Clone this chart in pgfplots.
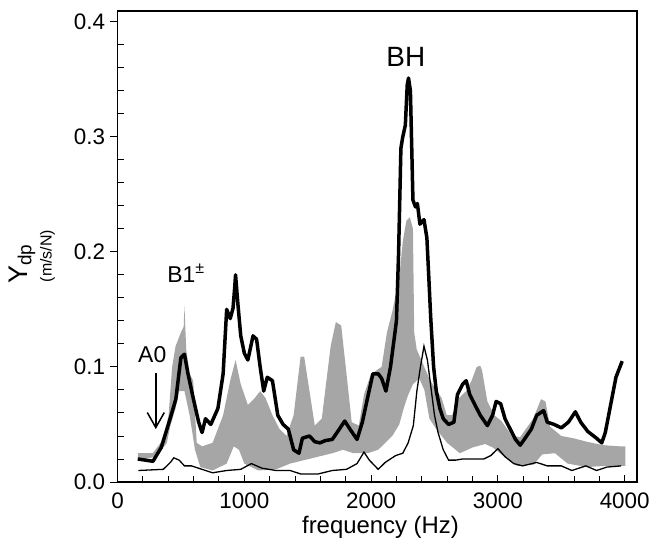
\documentclass[border=0pt]{standalone}
\usepackage{fontspec}
\setmainfont{Liberation Sans}
\usepackage{pgfplots}
\pgfplotsset{compat=1.18}
\usepgfplotslibrary{fillbetween}
\usetikzlibrary{arrows.meta}
\definecolor{band}{gray}{0.65}

\begin{document}
\begin{tikzpicture}
\begin{axis}[
  at={(0,0)}, anchor=south west, scale only axis,
  width=519.5bp, height=470.7bp,
  xmin=0, xmax=4097, ymin=0, ymax=0.409,
  xtick={0,1000,2000,3000,4000}, ytick={0,0.1,0.2,0.3,0.4},
  minor x tick num=4, minor y tick num=4,
  tick pos=left, tick align=inside,
  major tick length=7bp, minor tick length=6bp,
  every tick/.style={black, line width=0.9bp},
  every major y tick/.append style={xshift=-7bp},
  axis line style={line width=1.7bp},
  ticklabel style={font=\fontsize{22.5}{26}\selectfont},
  /pgf/number format/assume math mode=true,
  xticklabel style={yshift=-7.5bp, /pgf/number format/1000 sep={}},
  yticklabel style={xshift=-9bp, /pgf/number format/.cd, fixed, fixed zerofill, precision=1},
]
\addplot[name path=U, draw=none, forget plot] coordinates {
(160,0.025)(278,0.025)(361,0.037)(403,0.058)(431,0.100)(458,0.118)(500,0.130)(522,0.135)(528,0.153)(542,0.115)(569,0.094)(597,0.088)(625,0.034)(667,0.031)(750,0.034)(833,0.058)(889,0.088)(931,0.106)(972,0.085)(1028,0.067)(1083,0.073)(1125,0.079)(1167,0.073)(1222,0.058)(1278,0.046)(1333,0.040)(1389,0.058)(1444,0.109)(1472,0.109)(1514,0.079)(1556,0.049)(1611,0.055)(1681,0.118)(1722,0.139)(1764,0.136)(1806,0.094)(1847,0.052)(1903,0.049)(1944,0.076)(2000,0.094)(2083,0.100)(2125,0.130)(2167,0.148)(2222,0.178)(2250,0.209)(2278,0.227)(2306,0.230)(2330,0.220)(2340,0.130)(2360,0.115)(2400,0.105)(2458,0.090)(2500,0.082)(2556,0.073)(2597,0.058)(2639,0.058)(2694,0.073)(2750,0.079)(2792,0.088)(2833,0.100)(2861,0.101)(2875,0.097)(2917,0.070)(2972,0.058)(3028,0.053)(3111,0.040)(3176,0.039)(3278,0.055)(3340,0.072)(3375,0.070)(3412,0.048)(3500,0.040)(3596,0.038)(3700,0.035)(3830,0.032)(3960,0.031)(4005,0.031)
};
\addplot[name path=L, draw=none, forget plot] coordinates {
(160,0.019)(306,0.022)(389,0.034)(417,0.049)(458,0.064)(486,0.079)(528,0.079)(569,0.058)(611,0.028)(653,0.013)(750,0.010)(861,0.016)(917,0.031)(958,0.028)(1000,0.016)(1111,0.010)(1250,0.011)(1361,0.016)(1472,0.019)(1583,0.022)(1694,0.025)(1778,0.028)(1861,0.025)(1972,0.025)(2056,0.028)(2111,0.034)(2167,0.040)(2222,0.050)(2260,0.065)(2290,0.075)(2330,0.085)(2380,0.090)(2420,0.080)(2460,0.055)(2520,0.045)(2600,0.034)(2700,0.025)(2800,0.030)(2900,0.033)(2960,0.030)(3050,0.022)(3150,0.014)(3280,0.015)(3350,0.024)(3450,0.025)(3550,0.016)(3700,0.013)(3850,0.014)(4005,0.014)
};
\addplot[band, draw=none] fill between[of=U and L];

\addplot[black, line width=1.3bp] coordinates {
(165,0.010)(361,0.011)(417,0.017)(444,0.021)(486,0.019)(528,0.014)(583,0.014)(667,0.011)(750,0.008)(861,0.010)(972,0.011)(1056,0.016)(1139,0.012)(1250,0.010)(1361,0.010)(1444,0.007)(1583,0.007)(1694,0.010)(1806,0.011)(1889,0.016)(1944,0.026)(1986,0.019)(2056,0.011)(2111,0.017)(2194,0.023)(2250,0.025)(2292,0.034)(2333,0.049)(2361,0.079)(2389,0.100)(2417,0.118)(2444,0.106)(2472,0.082)(2500,0.058)(2528,0.043)(2569,0.028)(2611,0.019)(2667,0.019)(2722,0.020)(2806,0.020)(2889,0.020)(2944,0.023)(3000,0.029)(3056,0.022)(3125,0.016)(3194,0.014)(3306,0.017)(3389,0.014)(3500,0.014)(3583,0.010)(3694,0.014)(3778,0.010)(3861,0.013)(3972,0.014)
};

\addplot[black, line width=3.5bp, line join=round] coordinates {
(160,0.020)(280,0.018)(345,0.030)(415,0.055)(460,0.072)(500,0.108)(528,0.111)(556,0.094)(597,0.073)(640,0.052)(667,0.043)(694,0.055)(736,0.050)(792,0.064)(833,0.094)(861,0.150)(889,0.142)(911,0.151)(925,0.170)(931,0.180)(950,0.154)(972,0.127)(1000,0.112)(1028,0.106)(1069,0.127)(1097,0.124)(1125,0.100)(1153,0.079)(1181,0.091)(1222,0.088)(1264,0.058)(1306,0.050)(1347,0.046)(1389,0.028)(1431,0.025)(1458,0.038)(1514,0.040)(1556,0.035)(1597,0.034)(1639,0.036)(1694,0.037)(1750,0.046)(1792,0.053)(1833,0.046)(1889,0.037)(1931,0.052)(1972,0.073)(2014,0.094)(2056,0.094)(2083,0.090)(2117,0.079)(2153,0.100)(2200,0.140)(2217,0.200)(2235,0.290)(2250,0.300)(2270,0.310)(2285,0.345)(2295,0.351)(2310,0.340)(2330,0.245)(2350,0.239)(2365,0.242)(2385,0.224)(2417,0.228)(2440,0.212)(2455,0.178)(2470,0.143)(2493,0.100)(2514,0.079)(2542,0.064)(2569,0.055)(2611,0.050)(2653,0.052)(2681,0.076)(2722,0.085)(2750,0.088)(2778,0.076)(2819,0.067)(2861,0.058)(2917,0.049)(2958,0.058)(2986,0.070)(3022,0.068)(3056,0.055)(3097,0.046)(3139,0.037)(3176,0.032)(3208,0.037)(3264,0.046)(3306,0.058)(3361,0.062)(3389,0.052)(3444,0.050)(3500,0.047)(3556,0.052)(3611,0.061)(3653,0.052)(3708,0.044)(3778,0.038)(3819,0.034)(3847,0.043)(3889,0.067)(3931,0.091)(3980,0.105)
};

\node[anchor=base, font=\fontsize{28}{28}\selectfont] at (axis cs:2274,0.361) {BH};
\node[anchor=base west, font=\fontsize{23}{23}\selectfont] at (axis cs:365,0.173) {B1\textsuperscript{±}};
\node[anchor=base, font=\fontsize{23}{23}\selectfont] at (axis cs:274,0.104) {A0};
\draw[line width=1.5bp, -{Straight Barb[length=15bp,width=17bp]}] (axis cs:302,0.0945) -- (axis cs:302,0.046);
\end{axis}
\node[rotate=90] at (-95.5bp,218bp) {\fontsize{27}{27}\selectfont Y\raisebox{-0.3ex}{\fontsize{19}{19}\selectfont dp}};
\node[rotate=90] at (-70bp,226bp) {\fontsize{16}{16}\selectfont (m/s/N)};
\node[anchor=base] at (263bp,-51bp) {\fontsize{24}{24}\selectfont frequency (Hz)};
\pgfresetboundingbox
\useasboundingbox (-117.5bp,-60bp) rectangle (534.5bp,482bp);
\end{tikzpicture}
\end{document}
